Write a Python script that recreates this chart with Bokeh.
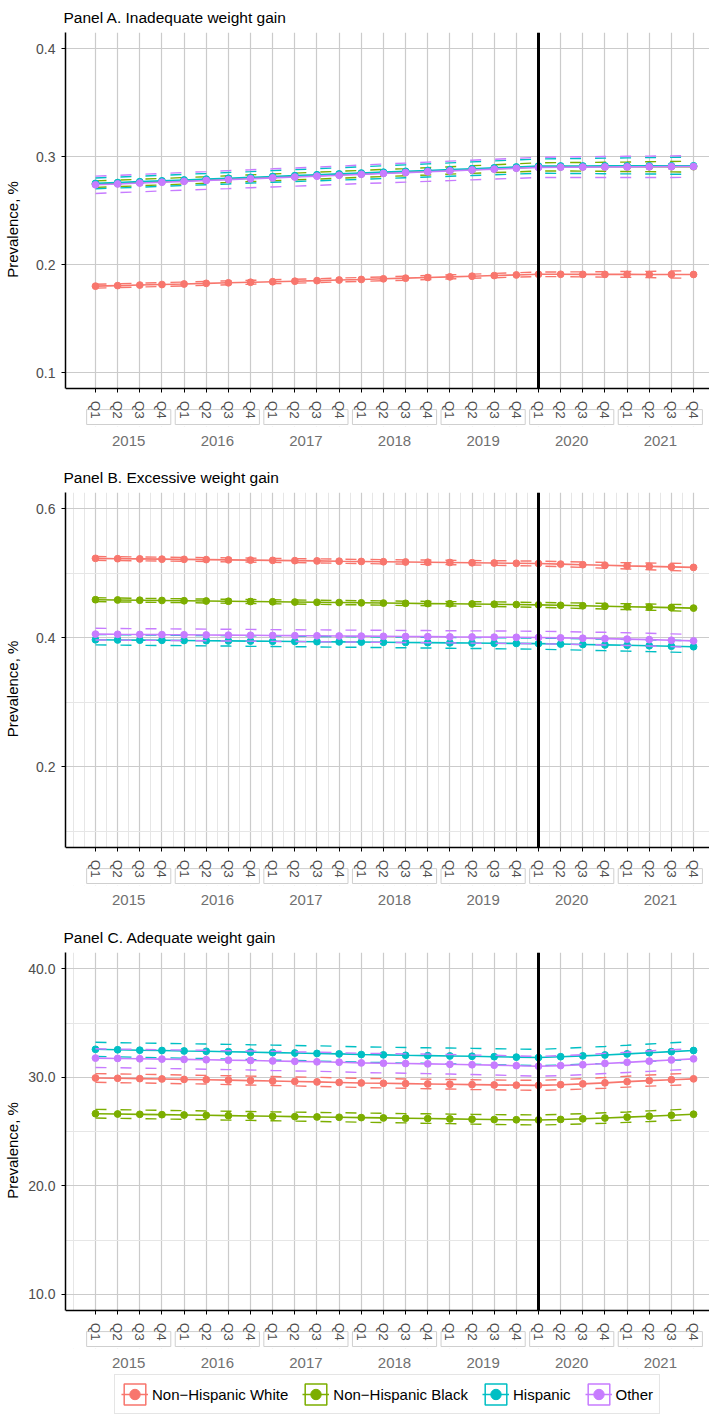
import math
from bokeh.plotting import figure
from bokeh.models import (FixedTicker, LinearAxis, Legend, LegendItem,
                          Range1d, PrintfTickFormatter)
from bokeh.layouts import column
from bokeh.embed import file_html
from bokeh.resources import INLINE

FONT = "Liberation Sans"

years = ["2015", "2016", "2017", "2018", "2019", "2020", "2021"]
quarters = ["Q1", "Q2", "Q3", "Q4"]
groups = ["Non\u2212Hispanic White", "Non\u2212Hispanic Black", "Hispanic", "Other"]
colors = ["#F8766D", "#7CAE00", "#00BFC4", "#C77CFF"]

# ---------------- Panel A: inadequate weight gain ----------------
a_white = [0.1800, 0.1805, 0.1810, 0.1815, 0.1820, 0.1826, 0.1831, 0.1836, 0.1841, 0.1846,
           0.1851, 0.1857, 0.1862, 0.1868, 0.1874, 0.1880, 0.1886, 0.1892, 0.1898, 0.1904,
           0.1910, 0.1910, 0.1909, 0.1909, 0.1909, 0.1908, 0.1908, 0.1908]
a_black = [0.2745, 0.2752, 0.2760, 0.2768, 0.2776, 0.2784, 0.2792, 0.2800, 0.2808, 0.2816,
           0.2824, 0.2832, 0.2840, 0.2848, 0.2856, 0.2864, 0.2872, 0.2880, 0.2888, 0.2896,
           0.2905, 0.2906, 0.2906, 0.2906, 0.2906, 0.2907, 0.2907, 0.2907]
a_hisp = [0.2752, 0.2760, 0.2768, 0.2776, 0.2784, 0.2792, 0.2800, 0.2808, 0.2816, 0.2824,
          0.2832, 0.2840, 0.2848, 0.2856, 0.2864, 0.2872, 0.2880, 0.2888, 0.2896, 0.2904,
          0.2912, 0.2913, 0.2913, 0.2914, 0.2914, 0.2915, 0.2915, 0.2915]
a_other = [0.2739, 0.2747, 0.2755, 0.2763, 0.2771, 0.2779, 0.2787, 0.2795, 0.2803, 0.2811,
           0.2819, 0.2827, 0.2836, 0.2844, 0.2852, 0.2860, 0.2868, 0.2876, 0.2884, 0.2892,
           0.2900, 0.2902, 0.2903, 0.2904, 0.2905, 0.2906, 0.2907, 0.2908]
a_white_ci = [0.0018, 0.0018, 0.0018, 0.0018, 0.0018, 0.0018, 0.0018, 0.0018, 0.0018, 0.0018,
              0.0018, 0.0018, 0.0018, 0.0018, 0.0019, 0.0019, 0.0019, 0.0019, 0.0020, 0.0020,
              0.0021, 0.0022, 0.0023, 0.0025, 0.0027, 0.0029, 0.0032, 0.0035]
a_black_ci = [0.0030, 0.0030, 0.0030, 0.0030, 0.0030, 0.0030, 0.0031, 0.0031, 0.0031, 0.0031,
              0.0032, 0.0032, 0.0032, 0.0033, 0.0033, 0.0034, 0.0034, 0.0035, 0.0036, 0.0037,
              0.0038, 0.0039, 0.0040, 0.0042, 0.0044, 0.0046, 0.0048, 0.0050]
a_hisp_ci = [0.0050, 0.0050, 0.0051, 0.0051, 0.0052, 0.0052, 0.0053, 0.0053, 0.0054, 0.0055,
             0.0056, 0.0057, 0.0058, 0.0059, 0.0060, 0.0061, 0.0062, 0.0063, 0.0064, 0.0065,
             0.0066, 0.0068, 0.0070, 0.0072, 0.0074, 0.0076, 0.0078, 0.0080]
a_other_ci = [0.0080, 0.0080, 0.0081, 0.0081, 0.0082, 0.0082, 0.0083, 0.0083, 0.0084, 0.0084,
              0.0085, 0.0085, 0.0086, 0.0087, 0.0088, 0.0089, 0.0090, 0.0091, 0.0092, 0.0093,
              0.0094, 0.0095, 0.0096, 0.0097, 0.0098, 0.0099, 0.0100, 0.0100]

# ---------------- Panel B: excessive weight gain ----------------
b_white = [0.5230, 0.5225, 0.5222, 0.5218, 0.5215, 0.5211, 0.5207, 0.5203, 0.5199, 0.5195,
           0.5191, 0.5186, 0.5182, 0.5178, 0.5174, 0.5170, 0.5166, 0.5162, 0.5158, 0.5154,
           0.5150, 0.5141, 0.5132, 0.5123, 0.5114, 0.5106, 0.5098, 0.5090]
b_black = [0.4590, 0.4586, 0.4582, 0.4578, 0.4574, 0.4570, 0.4566, 0.4562, 0.4558, 0.4554,
           0.4550, 0.4546, 0.4542, 0.4538, 0.4534, 0.4530, 0.4527, 0.4524, 0.4520, 0.4515,
           0.4510, 0.4503, 0.4496, 0.4489, 0.4482, 0.4475, 0.4468, 0.4460]
b_hisp = [0.3970, 0.3967, 0.3964, 0.3961, 0.3958, 0.3955, 0.3952, 0.3949, 0.3946, 0.3943,
          0.3940, 0.3937, 0.3934, 0.3931, 0.3928, 0.3925, 0.3922, 0.3919, 0.3916, 0.3913,
          0.3910, 0.3903, 0.3896, 0.3890, 0.3884, 0.3877, 0.3870, 0.3862]
b_other = [0.4057, 0.4054, 0.4052, 0.4049, 0.4047, 0.4044, 0.4041, 0.4039, 0.4036, 0.4033,
           0.4031, 0.4028, 0.4026, 0.4023, 0.4020, 0.4018, 0.4015, 0.4013, 0.4010, 0.4008,
           0.4005, 0.3999, 0.3993, 0.3987, 0.3980, 0.3972, 0.3962, 0.3952]
b_white_ci = [0.0030, 0.0030, 0.0030, 0.0030, 0.0030, 0.0030, 0.0031, 0.0031, 0.0031, 0.0031,
              0.0032, 0.0032, 0.0032, 0.0033, 0.0033, 0.0034, 0.0034, 0.0035, 0.0036, 0.0037,
              0.0038, 0.0040, 0.0042, 0.0045, 0.0048, 0.0052, 0.0056, 0.0060]
b_black_ci = [0.0030, 0.0030, 0.0030, 0.0030, 0.0030, 0.0030, 0.0031, 0.0031, 0.0031, 0.0031,
              0.0032, 0.0032, 0.0032, 0.0033, 0.0033, 0.0034, 0.0034, 0.0035, 0.0036, 0.0037,
              0.0038, 0.0040, 0.0042, 0.0044, 0.0046, 0.0048, 0.0050, 0.0052]
b_hisp_ci = [0.0080, 0.0080, 0.0080, 0.0080, 0.0080, 0.0080, 0.0080, 0.0081, 0.0081, 0.0081,
             0.0081, 0.0082, 0.0082, 0.0082, 0.0083, 0.0083, 0.0084, 0.0084, 0.0085, 0.0085,
             0.0086, 0.0087, 0.0088, 0.0089, 0.0090, 0.0091, 0.0092, 0.0093]
b_other_ci = [0.0090, 0.0090, 0.0090, 0.0090, 0.0090, 0.0090, 0.0091, 0.0091, 0.0091, 0.0091,
              0.0092, 0.0092, 0.0092, 0.0093, 0.0093, 0.0094, 0.0094, 0.0095, 0.0095, 0.0096,
              0.0096, 0.0097, 0.0097, 0.0098, 0.0098, 0.0099, 0.0099, 0.0100]

# ---------------- Panel C: adequate weight gain ----------------
c_white = [29.94, 29.91, 29.88, 29.85, 29.81, 29.78, 29.74, 29.70, 29.66, 29.62,
           29.58, 29.53, 29.48, 29.45, 29.42, 29.39, 29.36, 29.33, 29.30, 29.28,
           29.26, 29.32, 29.40, 29.49, 29.60, 29.70, 29.78, 29.86]
c_black = [26.65, 26.62, 26.59, 26.56, 26.53, 26.50, 26.47, 26.44, 26.41, 26.38,
           26.35, 26.32, 26.29, 26.26, 26.23, 26.20, 26.17, 26.14, 26.11, 26.09,
           26.07, 26.12, 26.18, 26.25, 26.33, 26.42, 26.51, 26.60]
c_hisp = [32.58, 32.54, 32.50, 32.47, 32.43, 32.40, 32.36, 32.32, 32.28, 32.24,
          32.20, 32.16, 32.10, 32.07, 32.03, 32.00, 31.97, 31.94, 31.90, 31.86,
          31.82, 31.90, 31.98, 32.06, 32.16, 32.27, 32.37, 32.47]
c_other = [31.77, 31.74, 31.71, 31.68, 31.65, 31.62, 31.58, 31.55, 31.51, 31.47,
           31.43, 31.39, 31.33, 31.30, 31.27, 31.24, 31.20, 31.16, 31.12, 31.07,
           31.02, 31.08, 31.16, 31.28, 31.38, 31.49, 31.60, 31.70]
c_white_ci = [0.40, 0.40, 0.40, 0.40, 0.40, 0.40, 0.41, 0.41, 0.41, 0.41,
              0.42, 0.42, 0.42, 0.43, 0.43, 0.44, 0.44, 0.45, 0.45, 0.46,
              0.46, 0.47, 0.48, 0.49, 0.50, 0.51, 0.52, 0.53]
c_black_ci = [0.40, 0.40, 0.40, 0.40, 0.40, 0.40, 0.41, 0.41, 0.41, 0.41,
              0.42, 0.42, 0.42, 0.43, 0.43, 0.44, 0.44, 0.45, 0.45, 0.46,
              0.46, 0.47, 0.47, 0.48, 0.48, 0.49, 0.49, 0.50]
c_hisp_ci = [0.65, 0.65, 0.66, 0.66, 0.67, 0.67, 0.68, 0.68, 0.69, 0.69,
             0.70, 0.70, 0.71, 0.71, 0.72, 0.72, 0.73, 0.73, 0.74, 0.74,
             0.75, 0.76, 0.77, 0.78, 0.79, 0.80, 0.81, 0.82]
c_other_ci = [0.86, 0.86, 0.86, 0.86, 0.87, 0.87, 0.87, 0.87, 0.88, 0.88,
              0.88, 0.88, 0.89, 0.89, 0.89, 0.90, 0.90, 0.90, 0.91, 0.91,
              0.91, 0.92, 0.92, 0.93, 0.93, 0.94, 0.94, 0.95]

qlabels = [q for y in years for q in quarters]
xpos = list(range(1, len(qlabels) + 1))
covid_start = xpos[qlabels.index("Q1") + 4 * years.index("2020")]

GRID = "#CBCBCB"
MINOR = "#E6E6E6"
TXT = "#4D4D4D"
W = 709
ML = 65
X0, X1 = -0.354, 28.72
EXT = 38          # px below the data area reserved for quarter labels + year boxes


def make_panel(title, est, ci, y_lo, y_hi, major, minor, fmt, xminor,
               height, data_h, mbt, label_standoff):
    per_px = (y_hi - y_lo) / data_h
    y_ext = y_lo - EXT * per_px
    mbb = height - mbt - data_h - EXT
    p = figure(width=W, height=height, x_range=Range1d(X0, X1),
               y_range=Range1d(y_ext, y_hi), output_backend="svg", toolbar_location=None,
               min_border_left=ML, min_border_right=0, min_border_top=mbt,
               min_border_bottom=mbb)
    p.outline_line_color = None
    p.background_fill_color = "white"
    p.border_fill_color = "white"

    p.title.text = title
    p.title.text_font = FONT
    p.title.text_font_size = "15.5px"
    p.title.text_font_style = "normal"
    p.title.text_color = "black"
    p.title.offset = -2
    p.title.standoff = 13

    # grids
    p.xgrid.ticker = FixedTicker(ticks=xpos, minor_ticks=xminor)
    p.xgrid.grid_line_color = GRID
    p.xgrid.grid_line_width = 1.2
    p.xgrid.minor_grid_line_color = MINOR if xminor else None
    p.xgrid.minor_grid_line_width = 1
    p.ygrid.ticker = FixedTicker(ticks=major, minor_ticks=minor)
    p.ygrid.grid_line_color = GRID
    p.ygrid.grid_line_width = 1.2
    p.ygrid.minor_grid_line_color = MINOR if minor else None
    p.ygrid.minor_grid_line_width = 1

    # y axis
    ya = p.yaxis[0]
    ya.ticker = FixedTicker(ticks=major)
    ya.bounds = (y_lo, y_hi)
    ya.formatter = PrintfTickFormatter(format=fmt)
    ya.axis_label = "Prevalence, %"
    ya.axis_label_text_font = FONT
    ya.axis_label_text_font_size = "15px"
    ya.axis_label_text_font_style = "normal"
    ya.axis_label_text_color = "black"
    ya.axis_label_standoff = label_standoff
    ya.major_label_text_font = FONT
    ya.major_label_text_font_size = "14px"
    ya.major_label_text_color = TXT
    ya.major_label_standoff = 6
    ya.major_tick_out = 4
    ya.major_tick_in = 0
    ya.minor_tick_line_color = None
    ya.axis_line_width = 1.5
    ya.axis_line_color = "black"
    ya.major_tick_line_color = "black"

    # strip under the data area: mask the grid, draw year boxes
    p.quad(left=[X0], right=[X1], bottom=[y_ext], top=[y_lo],
           fill_color="white", line_color=None)
    lefts = [xpos[4 * i] - 0.4 for i in range(len(years))]
    rights = [xpos[4 * i + 3] + 0.4 for i in range(len(years))]
    p.quad(left=lefts, right=rights,
           top=[y_lo - 21 * per_px] * len(years), bottom=[y_lo - 36 * per_px] * len(years),
           fill_color=None, line_color="#CFCFCF", line_width=1)

    # x axis: quarters, pinned at the bottom of the data area
    xa = p.xaxis[0]
    xa.ticker = FixedTicker(ticks=xpos)
    xa.fixed_location = y_lo
    xa.major_label_overrides = {x: q for x, q in zip(xpos, qlabels)}
    xa.major_label_orientation = -math.pi / 2
    xa.major_label_text_font = FONT
    xa.major_label_text_font_size = "13.5px"
    xa.major_label_text_color = TXT
    xa.major_label_standoff = 8
    xa.major_tick_out = 4
    xa.major_tick_in = 0
    xa.minor_tick_line_color = None
    xa.axis_line_width = 1.5
    xa.axis_line_color = "black"
    xa.major_tick_line_color = "black"

    # x axis: years
    centers = [sum(xpos[4 * i:4 * i + 4]) / 4 for i in range(len(years))]
    yr = LinearAxis(ticker=FixedTicker(ticks=centers),
                    major_label_overrides={c: y for c, y in zip(centers, years)},
                    major_tick_line_color=None, minor_tick_line_color=None,
                    axis_line_color=None, major_label_standoff=3,
                    major_label_text_font=FONT, major_label_text_font_size="15px",
                    major_label_text_color="#707070")
    p.add_layout(yr, "below")

    # data
    for vals, hw, col in zip(est, ci, colors):
        lo = [v - h for v, h in zip(vals, hw)]
        hi = [v + h for v, h in zip(vals, hw)]
        p.line(xpos, lo, line_color=col, line_width=1.4, line_dash="11 14")
        p.line(xpos, hi, line_color=col, line_width=1.4, line_dash="11 14")
        p.line(xpos, vals, line_color=col, line_width=1.6)
        p.scatter(xpos, vals, size=6.8, fill_color=col, line_color=col)

    p.segment(x0=[covid_start], y0=[y_lo], x1=[covid_start], y1=[y_hi],
              line_color="black", line_width=3)
    return p


pA = make_panel("Panel A. Inadequate weight gain",
                [a_white, a_black, a_hisp, a_other],
                [a_white_ci, a_black_ci, a_hisp_ci, a_other_ci],
                0.085, 0.415, [0.1, 0.2, 0.3, 0.4], [], "%.1f", [],
                460, 358, 30, 12)
pB = make_panel("Panel B. Excessive weight gain",
                [b_white, b_black, b_hisp, b_other],
                [b_white_ci, b_black_ci, b_hisp_ci, b_other_ci],
                0.075, 0.625, [0.2, 0.4, 0.6], [0.1, 0.3, 0.5], "%.1f",
                [0] + [x - 0.5 for x in xpos],
                460, 357, 30, 12)
pC = make_panel("Panel C. Adequate weight gain",
                [c_white, c_black, c_hisp, c_other],
                [c_white_ci, c_black_ci, c_hisp_ci, c_other_ci],
                8.5, 41.5, [10, 20, 30, 40], [15, 25, 35], "%.1f", [0],
                454, 360, 30, 4)

# legend strip
pL = figure(width=W, height=40, x_range=Range1d(0, 1), y_range=Range1d(0, 1),
            output_backend="svg", toolbar_location=None, x_axis_location=None,
            y_axis_location=None, min_border_left=60, min_border_right=0,
            min_border_top=0, min_border_bottom=0)
pL.outline_line_color = None
pL.grid.visible = False
items = []
for g, c in zip(groups, colors):
    r1 = pL.rect(x=[-5], y=[-5], width=1, height=1, fill_color=None, line_color=c,
                 line_width=1.5)
    r2 = pL.line(x=[-5, -4], y=[-5, -5], line_color=c, line_width=1.5)
    r3 = pL.scatter(x=[-5], y=[-5], size=6, fill_color=c, line_color=c)
    items.append(LegendItem(label=g, renderers=[r1, r2, r3]))
legend = Legend(items=items, orientation="horizontal", location="center",
                label_text_font=FONT, label_text_font_size="15px", label_text_color="black",
                glyph_width=27, glyph_height=26, label_height=26, label_standoff=4,
                spacing=14, padding=6, margin=0, border_line_color="#CCCCCC",
                border_line_width=1, background_fill_color="white")
pL.add_layout(legend, "center")

layout = column(pA, pB, pC, pL, spacing=0)
open("out.html", "w").write(file_html(layout, INLINE))
